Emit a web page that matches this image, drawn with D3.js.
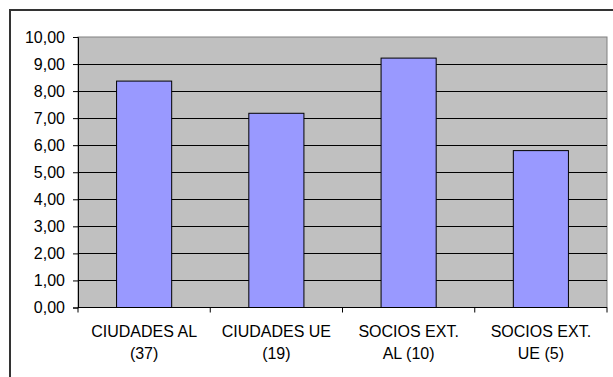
<!DOCTYPE html>
<html>
<head>
<meta charset="utf-8">
<script src="https://cdn.jsdelivr.net/npm/d3@7"></script>
<style>
  html, body { margin: 0; padding: 0; background: #fff; }
  svg { display: block; font-family: Arial, "Liberation Sans", sans-serif; }
</style>
</head>
<body>
<svg id="chart" width="613" height="377"></svg>
<script>
// Category labels (two lines each) and bar values
const categories = ["CIUDADES AL (37)", "CIUDADES UE (19)", "SOCIOS EXT. AL (10)", "SOCIOS EXT. UE (5)"];
const labelLines = [["CIUDADES AL", "(37)"], ["CIUDADES UE", "(19)"], ["SOCIOS EXT.", "AL (10)"], ["SOCIOS EXT.", "UE (5)"]];
const values = [8.37, 7.18, 9.22, 5.80];
const yTicks = [0, 1, 2, 3, 4, 5, 6, 7, 8, 9, 10];

const svg = d3.select("#chart");
const W = 613, H = 377;
const plot = { left: 78, top: 37, right: 607, bottom: 307.5 };

// Outer chart frame (extends past the bottom and right edge)
svg.append("rect")
  .attr("x", 10).attr("y", 10)
  .attr("width", W + 10).attr("height", H + 10)
  .attr("fill", "none").attr("stroke", "#333").attr("stroke-width", 2);

const x = d3.scaleBand().domain(categories).range([plot.left, plot.right])
  .paddingInner(1.4 / 2.4).paddingOuter(0.7 / 2.4);
const xCat = d3.scaleBand().domain(categories).range([plot.left, plot.right]);
const y = d3.scaleLinear().domain([0, 10]).range([plot.bottom, plot.top]);

// Plot background
svg.append("rect")
  .attr("x", plot.left).attr("y", plot.top)
  .attr("width", plot.right - plot.left).attr("height", plot.bottom - plot.top)
  .attr("fill", "#c0c0c0").attr("stroke", "#808080").attr("stroke-width", 1);

// Horizontal gridlines
svg.append("g").selectAll("line")
  .data(yTicks.filter(d => d > 0 && d < 10))
  .join("line")
  .attr("x1", plot.left).attr("x2", plot.right)
  .attr("y1", d => Math.round(y(d)) + 0.5).attr("y2", d => Math.round(y(d)) + 0.5)
  .attr("stroke", "#000").attr("stroke-width", 1);

// Bars
svg.append("g").selectAll("rect")
  .data(values)
  .join("rect")
  .attr("x", (d, i) => x(categories[i]))
  .attr("y", d => y(d))
  .attr("width", x.bandwidth())
  .attr("height", d => y(0) - y(d))
  .attr("fill", "#9999ff")
  .attr("stroke", "#000").attr("stroke-width", 1);

// Y axis
const yAxis = d3.axisLeft(y).tickValues(yTicks).tickSize(5).tickPadding(8)
  .tickFormat(d => d3.format(".2f")(d).replace(".", ","));
const gy = svg.append("g").attr("transform", `translate(${plot.left},0)`).call(yAxis);
gy.select(".domain").attr("stroke", "#000");
gy.selectAll(".tick line").attr("stroke", "#000");
gy.selectAll(".tick text").attr("font-size", 16).attr("fill", "#000")
  .attr("font-family", "Arial, 'Liberation Sans', sans-serif");

// X axis: ticks at category boundaries
const boundaries = categories.map(c => xCat(c)).concat([plot.right]);
svg.append("line")
  .attr("x1", plot.left).attr("x2", plot.right)
  .attr("y1", plot.bottom).attr("y2", plot.bottom)
  .attr("stroke", "#000");
svg.append("g").selectAll("line")
  .data(boundaries)
  .join("line")
  .attr("x1", d => d).attr("x2", d => d)
  .attr("y1", plot.bottom).attr("y2", plot.bottom + 5)
  .attr("stroke", "#000");

// Category labels
const lbl = svg.append("g").selectAll("text")
  .data(categories)
  .join("text")
  .attr("text-anchor", "middle")
  .attr("font-size", 16)
  .attr("fill", "#000");
lbl.each(function(c, i) {
  const t = d3.select(this);
  const cx = xCat(c) + xCat.bandwidth() / 2;
  labelLines[i].forEach((line, k) => {
    t.append("tspan").attr("x", cx).attr("y", 337 + k * 22).text(line);
  });
});
</script>
</body>
</html>
